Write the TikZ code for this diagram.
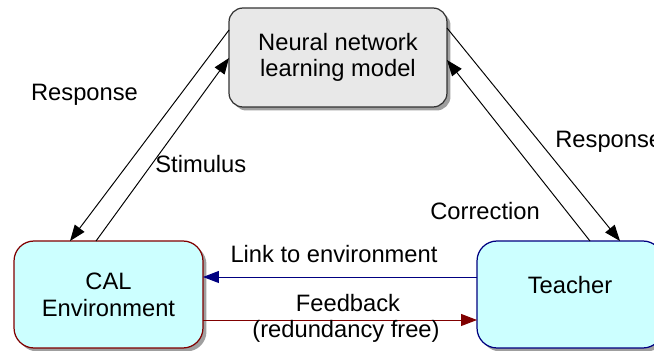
\documentclass[tikz,border=0pt]{standalone}
\usepackage{fontspec}
\setmainfont{Liberation Sans}
\usetikzlibrary{arrows.meta,calc,shadows}
\definecolor{calred}{RGB}{128,0,0}
\definecolor{tchblue}{RGB}{0,0,128}
\definecolor{boxcyan}{RGB}{204,255,255}
\definecolor{boxgray}{RGB}{232,232,232}
\newcommand{\ArwTip}{Triangle[length=0.32cm,width=0.24cm]}
\tikzset{blk/.style={draw,rounded corners=0.4cm,inner sep=0,outer sep=0,line width=0.7pt,align=center,drop shadow={opacity=1,fill=gray!75,shadow xshift=0.07cm,shadow yshift=-0.07cm}},
lnk/.style={line width=0.55pt,-{\ArwTip}},lbl/.style={inner sep=0}}

\begin{document}
\begin{tikzpicture}[x=0.02cm,y=-0.02cm,font=\fontsize{13.5}{15.2}\selectfont]
\useasboundingbox(0,0)rectangle(654,351);
% boxes
\node[blk,draw=black!80,fill=boxgray,rounded corners=0.28cm,minimum width=4.36cm,minimum height=1.98cm](nn)at(338,57.5){Neural network\\learning model};
\node[blk,draw=calred,fill=boxcyan,minimum width=3.78cm,minimum height=2.14cm](cal)at(108.5,294.5){CAL\\Environment};
\node[blk,draw=tchblue,fill=boxcyan,minimum width=3.72cm,minimum height=2.14cm](tch)at(570,294.5){};
\node[lbl](tchtxt)at($(tch)+(0,-9.5)$){Teacher};
% links
\draw[lnk]($(nn.north west)+(0,22)$)--($(cal.north west)+(56,0)$);
\draw[lnk]($(cal.north west)+(82,0)$)--($(nn.north west)+(0,50)$);
\draw[lnk]($(nn.north east)+(0,20)$)--($(tch.north west)+(143,0)$);
\draw[lnk]($(tch.north west)+(113,0)$)--($(nn.north east)+(0,52)$);
\draw[lnk,tchblue]($(tch.west)+(0,-17.5)$)--($(cal.east)+(0,-17.5)$);
\draw[lnk,calred]($(cal.east)+(0,25.5)$)--($(tch.west)+(0,25.5)$);
% labels
\node[lbl,anchor=base](resp1)at(84.5,101){Response};
\node[lbl,anchor=base west](stim)at(155,173){Stimulus};
\node[lbl,anchor=base west](resp2)at(555,148){Response};
\node[lbl,anchor=base west](corr)at(430,220){Correction};
\node[lbl,anchor=base](envlnk)at(334,263){Link to environment};
\node[lbl,anchor=base](fdbk)at(348,312){Feedback};
\node[lbl,anchor=base](rdfree)at(346,338){(redundancy free)};
\end{tikzpicture}
\end{document}
